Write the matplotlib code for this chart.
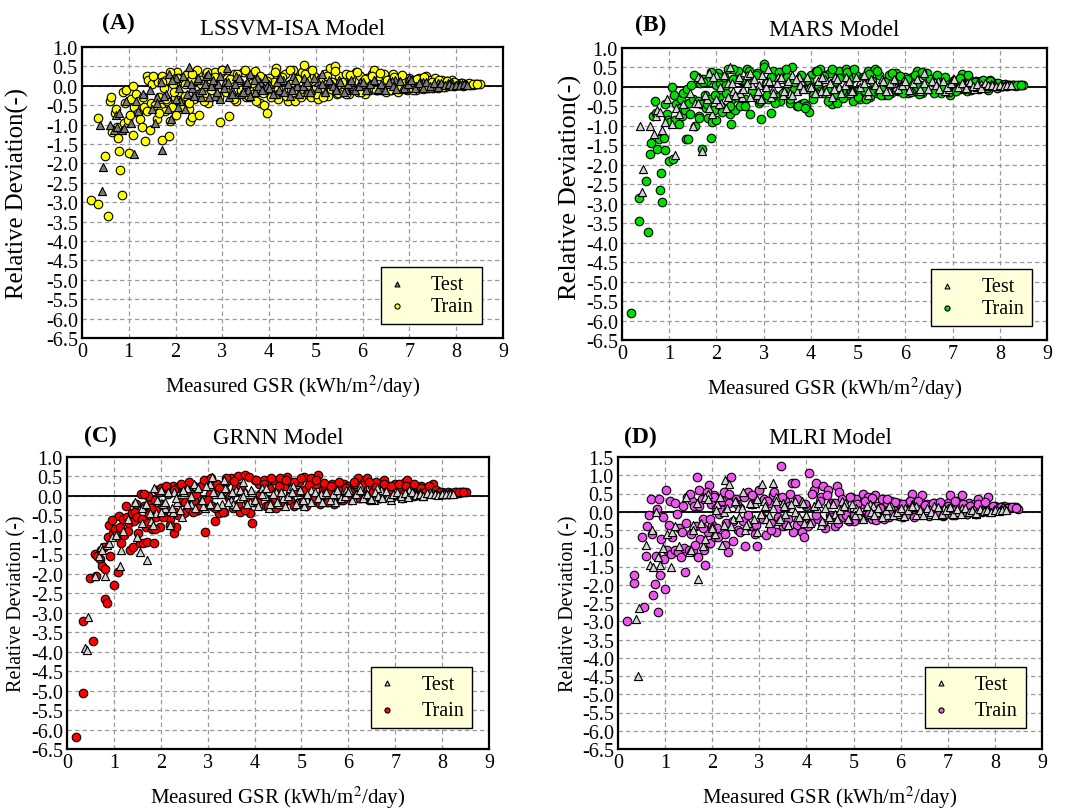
import matplotlib
matplotlib.use("Agg")
import matplotlib.pyplot as plt

plt.rcParams['font.family'] = ['Liberation Serif', 'DejaVu Serif']
plt.rcParams['mathtext.fontset'] = 'stix'
plt.rcParams['axes.unicode_minus'] = False

# ---------------- data ----------------
# measured GSR of the training samples (shared by all four models)
x_train = [
    0.20, 0.35, 0.35, 0.55, 0.50, 0.60, 0.62, 0.65, 0.70, 0.72,
    0.75, 0.78, 0.80, 0.82, 0.85, 0.88, 0.90, 0.92, 0.95, 0.98,
    1.00, 1.02, 1.05, 1.08, 1.10, 1.12, 1.15, 1.20, 1.22, 1.25,
    1.28, 1.30, 1.33, 1.35, 1.38, 1.40, 1.42, 1.45, 1.47, 1.50,
    1.55, 1.58, 1.60, 1.62, 1.65, 1.68, 1.70, 1.72, 1.75, 1.78,
    1.80, 1.82, 1.85, 1.88, 1.90, 1.93, 1.95, 1.98, 2.00, 2.03,
    2.05, 2.08, 2.10, 2.15, 2.20, 2.25, 2.28, 2.30, 2.33, 2.35,
    2.40, 2.45, 2.50, 2.55, 2.60, 2.65, 2.70, 2.75, 2.80, 2.85,
    2.90, 2.95, 3.00, 3.05, 3.10, 3.15, 3.20, 3.25, 3.30, 3.35,
    3.40, 3.45, 3.50, 3.55, 3.60, 3.65, 3.70, 3.75, 3.80, 3.85,
    3.90, 3.95, 4.00,
    4.05, 4.10, 4.15, 4.20, 4.25, 4.30, 4.35, 4.40, 4.45, 4.50,
    4.55, 4.60, 4.65, 4.70, 4.75, 4.80, 4.85, 4.90, 4.95, 5.00,
    5.05, 5.10, 5.15, 5.20, 5.25, 5.30, 5.35, 5.40, 5.45, 5.50,
    5.55, 5.60, 5.65, 5.70, 5.75, 5.80, 5.85, 5.90, 5.95, 6.00,
    6.05, 6.10, 6.15, 6.20, 6.25, 6.30, 6.35, 6.40, 6.45, 6.50,
    6.55, 6.60, 6.65, 6.70, 6.75, 6.80, 6.85, 6.90, 6.95, 7.00,
    7.05, 7.10, 7.15, 7.20, 7.25, 7.30, 7.35, 7.40, 7.45, 7.50,
    7.55, 7.60, 7.65, 7.70, 7.75, 7.80, 7.85, 7.90, 7.95, 8.00,
    8.05, 8.10, 8.15, 8.20, 8.25, 8.30, 8.35, 8.40, 8.45, 8.50,
]
x_train_band = [
    1.52, 1.64, 1.72, 1.80, 1.88, 1.96, 2.04, 2.12, 2.20, 2.28,
    2.36, 2.44, 2.52, 2.60, 2.68, 2.76, 2.84, 2.92, 3.00, 3.08,
    3.16, 3.24, 3.32, 3.40, 3.48, 3.56, 3.64, 3.72, 3.80, 3.88,
    3.96, 4.04, 4.12, 4.20, 4.28, 4.36, 4.44, 4.52, 4.60, 4.68,
    4.76, 4.84, 4.92, 5.00, 5.08, 5.16, 5.24, 5.32, 5.40, 5.48,
    5.56, 5.64, 5.72, 5.80, 5.88, 5.96, 6.04, 6.12, 6.20, 6.28,
    6.36, 6.44, 6.52, 6.60, 6.68, 6.76, 6.84, 6.92, 7.00, 7.08,
    7.16, 7.24, 7.32, 7.40, 7.48, 7.56, 7.64, 7.72, 7.80, 7.88,
    7.96, 8.04, 8.12, 8.20, 8.28, 8.36, 8.44,
]

# measured GSR of the testing samples (shared by all four models)
x_test = [
    0.38, 0.42, 0.45, 0.60, 0.68, 0.72, 0.75, 0.80, 0.85, 0.90,
    0.95, 1.05, 1.12, 1.15, 1.20, 1.30, 1.45, 1.50, 1.55, 1.60,
    1.70,
    1.80, 1.90, 2.00, 2.10, 2.20, 2.28, 2.35, 2.45, 2.55, 2.65,
    2.75, 2.85, 2.95, 3.05, 3.10, 3.20, 3.30, 3.40, 3.50, 3.60,
    3.70, 3.80, 3.90, 4.00, 4.15, 4.30, 4.45, 4.60, 4.75, 4.90,
    5.05, 5.20, 5.35, 5.50, 5.65, 5.80, 5.95, 6.10, 6.25, 6.40,
    6.55, 6.70, 6.85, 7.00, 7.15, 7.30, 7.45, 7.60, 7.75, 7.90,
    8.05, 8.20,
    1.85, 2.05, 2.25, 2.50, 2.70, 2.90, 3.15, 3.35, 3.55, 3.75,
    3.95, 4.22, 4.52, 4.82, 5.12, 5.42, 5.72, 6.02, 6.32, 6.62,
    6.92, 7.22, 7.52, 7.82, 8.12,
]
x_test_core = [
    1.60, 1.68, 1.76, 1.84, 1.92, 2.00, 2.08, 2.16, 2.24, 2.32,
    2.40, 2.48, 2.56, 2.64, 2.72, 2.80, 2.88, 2.96, 3.04, 3.12,
    3.20, 3.28, 3.36, 3.44, 3.52, 3.60, 3.68, 3.76, 3.84, 3.92,
    4.00, 4.08, 4.16, 4.24, 4.32, 4.40, 4.48, 4.56, 4.64, 4.72,
    4.80, 4.88, 4.96, 5.04, 5.12, 5.20, 5.28, 5.36, 5.44, 5.52,
    5.60, 5.68, 5.76, 5.84, 5.92, 6.00, 6.08, 6.16, 6.24, 6.32,
    6.40, 6.48, 6.56, 6.64, 6.72, 6.80, 6.88, 6.96, 7.04, 7.12,
    7.20, 7.28, 7.36, 7.44, 7.52, 7.60, 7.68, 7.76, 7.84, 7.92,
    8.00, 8.08, 8.16, 8.24,
]

# (A) LSSVM-ISA relative deviations
train_lssvm = [
    -2.95, -3.05, -0.83, -3.35, -1.80, -0.38, -0.30, -1.18, -0.70, -0.60,
    -1.05, -1.35, -1.67, -2.18, -2.82, -0.15, -0.95, -0.45, -0.12, -0.88,
    -1.72, -0.75, -0.35, -1.28, 0.00, -0.55, -0.20, -0.70, -0.40, -0.85,
    -1.05, -0.30, -0.55, -1.42, 0.25, -0.65, 0.15, -1.15, -0.45, 0.05,
    -0.50, 0.20, -0.85, 0.10, -0.30, -0.55, -1.40, 0.25, -0.05, -0.65,
    0.15, -0.40, -1.30, -0.90, 0.30, -0.55, 0.05, -0.30, -0.75, 0.35,
    -0.15, 0.20, -0.45, 0.10, -0.25, 0.30, -0.60, -0.90, 0.15, -0.80,
    -0.35, 0.42, -0.75, 0.05, -0.20, 0.30, -0.45, 0.15, -0.10, 0.35,
    -0.30, -0.93, 0.40, -0.05, 0.20, -0.78, -0.25, 0.30, -0.40, 0.10,
    -0.15, 0.35, -0.30, 0.05, 0.25, -0.20, 0.38, -0.05, -0.45, 0.15,
    -0.50, -0.70, 0.20,
    -0.25, 0.10, 0.45, -0.35, 0.25, -0.10, 0.30, -0.40, 0.05, 0.40,
    -0.40, 0.20, -0.15, 0.35, 0.53, -0.20, 0.15, -0.30, 0.25, -0.05,
    -0.35, 0.20, -0.10, 0.30, -0.25, 0.47, 0.10, 0.50, -0.20, 0.25,
    -0.15, 0.05, 0.30, -0.20, 0.15, -0.05, 0.35, -0.15, 0.25, 0.00,
    -0.20, 0.20, -0.10, 0.30, 0.40, -0.10, 0.25, -0.05, 0.30, -0.15,
    0.15, -0.10, 0.30, 0.05, -0.15, 0.20, -0.05, 0.10, -0.12, 0.20,
    -0.05, 0.15, -0.10, 0.20, 0.05, -0.08, 0.25, 0.00, 0.15, -0.05,
    0.20, -0.05, 0.10, 0.15, -0.03, 0.12, 0.05, 0.15, 0.00, 0.08,
    0.02, 0.06, 0.00, 0.04, 0.05, 0.02, 0.03, 0.05, 0.04, 0.05,
]
train_band_lssvm = [
    0.25, -0.70, 0.10, -0.35, 0.35, -0.15, 0.20, -0.55, 0.05, -0.45,
    0.30, -0.20, 0.15, -0.40, 0.35, -0.10, 0.22, -0.30, 0.40, -0.15,
    0.18, -0.35, 0.30, -0.12, 0.40, -0.28, 0.08, -0.40, 0.25, -0.18,
    0.12, -0.30, 0.35, -0.08, 0.22, -0.25, 0.40, -0.15, 0.18, -0.30,
    0.30, -0.10, 0.42, -0.20, 0.15, -0.28, 0.25, -0.08, 0.38, -0.18,
    0.10, -0.22, 0.28, -0.05, 0.35, -0.15, 0.18, -0.10, 0.25, -0.12,
    0.32, -0.05, 0.15, -0.12, 0.22, 0.00, 0.28, -0.08, 0.12, -0.10,
    0.18, -0.02, 0.22, -0.06, 0.10, 0.02, 0.16, -0.04, 0.12, 0.05,
    0.10, 0.02, 0.08, 0.03, 0.06, 0.04, 0.05,
]
test_lssvm = [
    -1.00, -2.70, -2.10, -1.00, -1.15, -0.75, -1.05, -0.70, -1.15, -1.10,
    -0.40, -0.95, -1.75, -0.40, -0.65, -0.20, -0.10, -0.60, -0.95, -0.30,
    -1.65,
    -0.20, -0.85, 0.20, -0.40, -0.60, 0.48, -0.05, 0.15, -0.30, 0.25,
    0.00, -0.25, -0.35, 0.10, 0.45, -0.10, 0.25, -0.20, 0.05, 0.30,
    -0.15, 0.10, -0.05, 0.05, -0.20, 0.15, -0.25, 0.00, 0.20, -0.10,
    0.10, -0.15, 0.05, 0.15, -0.10, 0.00, 0.10, -0.05, 0.15, -0.10,
    0.05, 0.15, -0.08, 0.20, 0.00, 0.10, -0.05, 0.08, 0.02, 0.06,
    0.03, 0.04,
    0.30, -0.55, 0.10, -0.15, 0.30, 0.05, -0.30, 0.15, -0.10, 0.20,
    0.00, -0.10, 0.25, -0.15, 0.30, -0.05, 0.10, 0.05, -0.10, 0.12,
    -0.05, 0.10, 0.00, 0.07, 0.04,
]
test_core_lssvm = [
    -0.45, 0.10, -0.25, -0.60, 0.15, -0.35, -0.05, 0.25, -0.20, 0.05,
    -0.25, 0.20, -0.10, 0.05, -0.30, 0.15, -0.15, 0.25, -0.05, 0.10,
    -0.20, 0.05, 0.20, -0.15, 0.10, -0.25, 0.15, 0.00, -0.10, 0.20,
    -0.05, -0.20, 0.10, 0.20, -0.15, 0.05, -0.10, 0.15, -0.20, 0.00,
    0.10, -0.15, 0.20, -0.05, 0.05, -0.15, 0.15, 0.00, -0.10, 0.10,
    -0.15, 0.05, 0.15, -0.10, 0.00, 0.10, -0.12, 0.05, 0.15, -0.08,
    0.05, -0.10, 0.10, 0.00, -0.08, 0.12, -0.05, 0.05, 0.15, -0.05,
    0.08, -0.05, 0.10, 0.00, 0.06, -0.04, 0.08, 0.02, 0.05, 0.00,
    0.03, 0.02, 0.04, 0.03,
]

# (B) MARS relative deviations
train_mars = [
    -5.80, -3.45, -2.85, -3.72, -2.42, -1.72, -1.45, -0.75, -0.35, -0.68,
    -1.60, -1.35, -2.65, -2.20, -2.95, -1.30, -1.62, -0.45, -0.70, -0.85,
    -1.90, -0.90, 0.00, -1.85, -0.20, -0.85, -0.45, -0.95, -0.55, -0.30,
    -0.75, -0.15, -0.60, -1.35, -0.05, -1.35, -0.40, -0.70, 0.05, -0.30,
    -1.00, 0.25, -0.35, -0.75, 0.10, -0.45, -1.60, 0.20, -0.20, -0.55,
    0.15, -0.80, -0.30, -1.32, -0.90, 0.30, -0.60, 0.05, -0.85, 0.35,
    -0.25, 0.10, -0.50, 0.25, -0.15, 0.45, -0.70, -0.95, -0.30, 0.20,
    -0.60, 0.40, -0.50, 0.15, -0.30, 0.45, -0.70, 0.25, -0.15, 0.35,
    -0.40, -0.82, 0.58, 0.10, -0.30, -0.67, 0.40, -0.20, 0.20, -0.35,
    0.30, -0.10, 0.25, -0.40, 0.50, -0.05, -0.48, 0.20, -0.45, -0.42,
    -0.50, -0.65, 0.30,
    -0.20, 0.40, 0.05, 0.45, -0.15, 0.30, -0.05, 0.35, -0.45, 0.15,
    -0.40, 0.40, -0.10, 0.25, 0.45, -0.20, 0.20, -0.37, 0.30, -0.10,
    -0.30, 0.25, -0.10, 0.40, -0.25, 0.15, 0.45, -0.15, 0.30, -0.05,
    -0.20, 0.15, 0.30, -0.15, 0.05, 0.35, -0.10, 0.20, -0.05, 0.25,
    -0.15, 0.10, 0.25, -0.10, 0.40, 0.05, -0.15, 0.30, 0.35, -0.05,
    0.20, -0.10, 0.15, 0.25, -0.15, 0.05, 0.15, -0.10, -0.20, 0.10,
    -0.10, 0.15, -0.05, 0.32, 0.05, -0.10, 0.20, -0.05, 0.10, 0.15,
    -0.05, 0.15, 0.05, 0.10, -0.08, 0.18, 0.05, 0.10, -0.02, 0.08,
    0.03, 0.06, 0.02, 0.05, 0.04, 0.06, 0.03, 0.05, 0.04, 0.05,
]
train_band_mars = [
    0.30, -0.80, 0.12, -0.45, 0.38, -0.20, 0.25, -0.65, 0.05, -0.50,
    0.45, -0.25, 0.18, -0.50, 0.40, -0.10, 0.30, -0.35, 0.50, -0.20,
    0.25, -0.40, 0.38, -0.15, 0.45, -0.30, 0.12, -0.50, 0.30, -0.55,
    0.15, -0.30, 0.42, -0.10, 0.28, -0.35, 0.45, -0.18, 0.22, -0.28,
    0.38, -0.12, 0.45, -0.25, 0.20, -0.30, 0.32, -0.10, 0.42, -0.20,
    0.12, -0.22, 0.35, -0.08, 0.28, -0.15, 0.20, -0.12, 0.30, -0.18,
    0.38, -0.05, 0.20, -0.15, 0.30, 0.00, 0.25, -0.12, 0.15, -0.10,
    0.22, -0.05, 0.30, -0.08, 0.12, 0.02, 0.18, -0.04, 0.15, 0.05,
    0.10, 0.03, 0.08, 0.04, 0.06, 0.05, 0.05,
]
test_mars = [
    -1.00, -2.70, -2.10, -1.00, -1.20, -0.75, -0.60, -0.65, -1.10, -0.90,
    -0.30, -0.95, -1.75, -0.55, -0.70, -0.45, -0.15, -1.00, -0.40, 0.25,
    -1.65,
    -0.30, -0.70, 0.30, -0.40, -0.55, 0.50, -0.10, 0.20, -0.25, 0.30,
    0.05, -0.20, -0.30, 0.15, 0.45, -0.05, 0.25, -0.20, 0.10, 0.30,
    -0.10, 0.15, -0.05, 0.05, -0.15, 0.20, -0.25, 0.00, 0.25, -0.10,
    0.15, -0.20, 0.05, 0.20, -0.10, 0.00, 0.15, -0.05, 0.20, 0.35,
    0.05, 0.15, -0.10, 0.20, 0.00, 0.10, -0.05, 0.08, 0.02, 0.06,
    0.03, 0.04,
    0.35, -0.45, 0.10, -0.15, 0.35, 0.05, -0.25, 0.20, -0.15, 0.25,
    0.00, -0.10, 0.25, -0.15, 0.30, -0.05, 0.10, 0.05, -0.10, 0.12,
    -0.05, 0.10, 0.00, 0.07, 0.04,
]
test_core_mars = [
    -0.40, 0.20, -0.20, -0.55, 0.25, -0.30, 0.00, 0.30, -0.25, 0.10,
    -0.20, 0.25, -0.05, 0.10, -0.25, 0.20, -0.10, 0.30, 0.00, 0.15,
    -0.15, 0.10, 0.25, -0.10, 0.15, -0.20, 0.20, 0.05, -0.05, 0.25,
    0.00, -0.15, 0.15, 0.25, -0.10, 0.10, -0.05, 0.20, -0.15, 0.05,
    0.15, -0.10, 0.25, 0.00, 0.10, -0.10, 0.20, 0.05, -0.05, 0.15,
    -0.10, 0.10, 0.20, -0.05, 0.05, 0.15, -0.08, 0.10, 0.20, -0.05,
    0.10, -0.05, 0.15, 0.05, -0.05, 0.15, 0.00, 0.10, 0.20, 0.00,
    0.10, -0.03, 0.12, 0.02, 0.08, -0.02, 0.10, 0.04, 0.06, 0.02,
    0.04, 0.03, 0.05, 0.04,
]

# (C) GRNN relative deviations
train_grnn = [
    -6.20, -5.05, -3.20, -3.72, -2.12, -1.50, -2.05, -1.55, -1.62, -1.40,
    -1.80, -1.30, -2.65, -1.88, -2.75, -1.05, -0.75, -1.55, -0.62, -0.95,
    -2.30, -0.85, -1.00, -1.95, -0.52, -0.80, -1.20, -0.60, -1.00, -0.25,
    -0.55, -0.90, -0.70, -1.40, -0.45, -1.30, -0.65, -0.40, -0.20, -0.55,
    -1.20, 0.05, -0.60, -1.20, -0.25, -0.80, -1.18, 0.00, -0.45, -0.65,
    -0.20, -0.85, -1.22, -0.10, -0.55, 0.15, -0.35, -0.80, 0.20, -0.20,
    -0.45, 0.10, -0.30, 0.05, -0.60, 0.25, -0.95, -0.40, -0.80, 0.20,
    -0.15, 0.25, -0.45, 0.10, -0.30, 0.30, -0.10, 0.20, -0.35, 0.25,
    -0.15, -0.93, 0.40, 0.05, -0.25, -0.65, 0.30, -0.45, 0.15, -0.40,
    0.35, -0.05, 0.45, -0.30, 0.20, 0.50, -0.40, 0.10, 0.55, -0.15,
    -0.45, -0.70, 0.40,
    -0.15, 0.30, 0.05, 0.42, -0.25, 0.20, -0.10, 0.40, -0.30, 0.15,
    0.45, -0.20, 0.25, 0.48, -0.10, 0.30, -0.25, 0.10, 0.35, -0.15,
    0.48, -0.25, 0.20, 0.45, -0.10, 0.30, 0.55, -0.20, 0.15, 0.25,
    -0.15, 0.10, 0.30, -0.20, 0.05, 0.20, -0.10, 0.30, 0.00, 0.25,
    -0.10, 0.15, 0.30, 0.45, -0.05, 0.20, 0.40, 0.45, -0.10, 0.25,
    0.10, 0.35, -0.05, 0.20, 0.40, 0.05, 0.25, -0.05, 0.15, 0.30,
    0.05, 0.20, -0.05, 0.35, 0.40, 0.10, 0.20, 0.00, 0.25, 0.10,
    0.25, 0.05, 0.20, 0.10, 0.15, 0.30, 0.05, 0.12, 0.08, 0.10,
    0.05, 0.07, 0.06, 0.08, 0.07, 0.09, 0.08, 0.10, 0.09, 0.10,
]
train_band_grnn = [
    -0.95, 0.05, -0.70, -0.30, -0.85, 0.10, -0.55, 0.25, -0.75, 0.15,
    -0.50, 0.30, -0.15, 0.35, -0.40, 0.05, -0.25, 0.40, -0.10, 0.45,
    -0.30, 0.20, -0.40, 0.45, 0.00, 0.38, -0.20, 0.25, -0.35, 0.48,
    -0.15, 0.40, 0.05, 0.30, -0.25, 0.45, -0.05, 0.25, -0.20, 0.40,
    0.05, 0.35, -0.18, 0.45, 0.15, 0.28, -0.10, 0.40, 0.00, 0.32,
    -0.15, 0.25, 0.05, 0.35, -0.10, 0.20, 0.10, 0.35, -0.05, 0.28,
    0.00, 0.35, 0.10, 0.22, -0.05, 0.30, 0.12, 0.25, 0.02, 0.30,
    0.05, 0.25, 0.12, 0.30, 0.02, 0.20, 0.10, 0.25, 0.05, 0.15,
    0.10, 0.08, 0.10, 0.08, 0.09, 0.10, 0.09,
]
test_grnn = [
    -3.90, -3.95, -3.10, -2.05, -1.55, -1.30, -1.40, -2.05, -1.25, -1.20,
    -1.05, -1.00, -1.80, -1.40, -0.90, -0.60, -0.15, -1.05, -1.45, -0.30,
    -1.65,
    -0.65, -0.45, 0.15, -0.30, -0.75, 0.10, -0.15, -0.55, 0.20, -0.20,
    0.25, -0.10, -0.30, 0.30, 0.48, 0.05, -0.20, 0.20, -0.10, 0.15,
    -0.05, 0.10, -0.15, -0.10, 0.20, -0.30, 0.10, -0.05, 0.20, -0.15,
    -0.25, 0.15, -0.05, 0.10, -0.10, 0.05, 0.15, -0.05, 0.25, 0.05,
    -0.10, 0.15, 0.00, 0.10, -0.05, 0.15, 0.05, 0.00, 0.10, 0.05,
    0.06, 0.08,
    0.20, -0.20, -0.40, 0.10, 0.30, -0.25, 0.05, 0.40, -0.20, 0.35,
    0.10, 0.00, -0.20, 0.25, -0.10, 0.05, -0.15, 0.15, -0.05, 0.20,
    -0.10, 0.05, 0.10, 0.04, 0.06,
]
test_core_grnn = [
    -0.70, -0.20, -0.45, -0.75, -0.10, -0.40, -0.15, 0.10, -0.30, -0.05,
    -0.35, 0.15, -0.20, 0.00, -0.30, 0.20, -0.10, 0.25, -0.20, 0.10,
    -0.25, 0.05, 0.20, -0.15, 0.10, -0.25, 0.15, 0.00, -0.20, 0.15,
    -0.10, -0.25, 0.05, 0.20, -0.20, 0.05, -0.15, 0.10, -0.25, 0.00,
    0.10, -0.20, 0.15, -0.10, 0.05, -0.15, 0.10, -0.05, -0.15, 0.10,
    -0.10, 0.05, 0.15, -0.05, 0.00, 0.10, -0.10, 0.05, 0.15, -0.05,
    0.05, -0.08, 0.10, 0.00, -0.05, 0.12, -0.03, 0.05, 0.10, 0.00,
    0.08, -0.02, 0.10, 0.02, 0.06, 0.00, 0.08, 0.04, 0.05, 0.03,
    0.05, 0.04, 0.06, 0.06,
]

# (D) MLRI relative deviations
train_mlri = [
    -3.00, -1.95, -1.72, -2.62, -0.70, -1.22, -0.40, -0.10, 0.35, -0.60,
    -2.28, -1.98, -1.20, 0.08, -2.75, 0.35, -1.72, -0.75, -0.15, -1.30,
    -2.12, 0.60, -1.05, -0.35, 0.30, -1.15, -0.70, 0.25, -1.05, -0.05,
    -1.10, -0.45, -1.25, -0.55, 0.15, -1.00, -1.65, -0.30, 0.40, -1.05,
    -0.60, 0.30, -1.05, 0.15, -0.40, 0.95, -1.25, 0.60, -0.75, 0.35,
    -0.20, -1.05, -1.45, 0.45, -0.55, 0.72, -0.85, 0.20, -0.35, 0.45,
    -0.70, 0.10, -0.45, -0.05, 0.30, 0.55, -0.90, -0.30, -1.10, 0.25,
    0.95, -0.80, 0.35, -0.50, 0.10, -0.25, -0.95, 0.55, -0.40, 0.20,
    -0.60, -0.95, 0.60, -0.15, 0.35, -0.65, 0.25, -0.30, 0.45, -0.55,
    0.10, 1.25, -0.40, 0.30, -0.20, 0.50, 0.80, 0.80, -0.35, 0.25,
    -0.55, -0.70, 0.15,
    1.05, -0.30, 0.60, 0.80, -0.20, 0.40, 0.70, -0.45, 0.60, -0.10,
    0.25, -0.40, 0.70, 0.55, -0.15, 0.30, 0.05, -0.25, 0.40, -0.10,
    0.35, -0.20, 0.20, 0.50, -0.10, 0.40, 0.05, -0.20, 0.45, 0.15,
    -0.15, 0.35, 0.05, 0.25, -0.15, 0.30, 0.10, -0.10, 0.25, 0.00,
    -0.15, 0.20, 0.05, 0.30, 0.48, -0.10, 0.15, 0.30, 0.45, -0.05,
    0.20, -0.10, 0.15, 0.25, -0.05, 0.20, 0.10, -0.12, 0.15, 0.25,
    0.45, 0.05, -0.10, 0.30, 0.20, 0.45, 0.05, -0.05, 0.25, 0.10,
    0.20, -0.05, 0.35, 0.10, 0.05, 0.25, 0.40, 0.10, 0.05, 0.15,
    0.10, 0.12, 0.08, 0.15, 0.10, 0.12, 0.10, 0.13, 0.12, 0.08,
]
train_band_mlri = [
    0.50, -0.90, 0.15, -0.45, 0.55, -0.20, 0.40, -0.70, 0.05, -0.60,
    0.50, -0.25, 0.20, -0.55, 0.40, -0.10, 0.45, -0.35, 0.60, -0.20,
    0.30, -0.50, 0.55, -0.15, 0.40, -0.35, 0.15, -0.55, 0.35, -0.25,
    0.20, -0.40, 0.50, -0.10, 0.30, -0.30, 0.45, -0.15, 0.25, -0.30,
    0.35, -0.10, 0.40, -0.25, 0.20, -0.15, 0.30, -0.05, 0.38, -0.22,
    0.10, -0.20, 0.35, -0.05, 0.28, -0.12, 0.20, -0.10, 0.30, -0.15,
    0.30, -0.05, 0.18, -0.12, 0.25, 0.00, 0.28, -0.10, 0.15, -0.08,
    0.30, 0.00, 0.22, -0.05, 0.15, 0.05, 0.20, -0.02, 0.28, 0.05,
    0.15, 0.08, 0.12, 0.10, 0.10, 0.12, 0.10,
]
test_mlri = [
    -2.95, -4.50, -2.65, -0.90, -1.45, -0.50, -1.50, 0.00, -1.25, -1.45,
    -1.00, -0.60, -1.52, -0.55, -0.40, -0.95, 0.40, -1.10, -1.05, -0.35,
    -1.85,
    -0.95, 0.50, -0.40, 0.20, -0.90, 0.88, 0.75, -0.20, 0.10, 0.55,
    -0.30, 0.20, -0.55, 0.75, 0.30, -0.10, 0.80, -0.25, 0.25, -0.35,
    0.10, -0.15, 0.30, -0.10, 0.15, -0.35, 0.20, -0.05, 0.30, -0.20,
    0.10, -0.15, 0.20, 0.00, -0.10, 0.15, -0.05, 0.10, 0.20, -0.10,
    0.05, 0.15, -0.10, 0.10, -0.05, 0.10, 0.00, -0.05, 0.05, 0.00,
    0.05, 0.08,
    0.40, -0.60, 0.00, 0.30, -0.50, 0.25, -0.20, 0.40, -0.05, 0.30,
    -0.30, 0.10, -0.20, 0.25, -0.10, 0.15, -0.10, 0.05, 0.15, -0.05,
    0.10, 0.00, 0.05, 0.02, 0.05,
]
test_core_mlri = [
    -0.50, 0.25, -0.30, -0.75, 0.35, -0.45, 0.05, 0.40, -0.35, 0.10,
    -0.40, 0.30, -0.15, 0.10, -0.35, 0.25, -0.20, 0.35, -0.05, 0.15,
    -0.30, 0.10, 0.30, -0.20, 0.15, -0.35, 0.20, 0.00, -0.15, 0.25,
    -0.10, -0.30, 0.15, 0.25, -0.25, 0.10, -0.15, 0.20, -0.20, 0.05,
    0.15, -0.20, 0.20, -0.10, 0.05, -0.20, 0.15, 0.00, -0.10, 0.10,
    -0.15, 0.05, 0.15, -0.10, 0.00, 0.10, -0.12, 0.05, 0.15, -0.08,
    0.05, -0.10, 0.10, 0.00, -0.08, 0.12, -0.05, 0.05, 0.12, -0.05,
    0.08, -0.05, 0.10, 0.00, 0.06, -0.04, 0.08, 0.02, 0.05, 0.00,
    0.04, 0.03, 0.05, 0.05,
]

panel_letters = ['(A)', '(B)', '(C)', '(D)']
panel_titles = ['LSSVM-ISA Model', 'MARS Model', 'GRNN Model', 'MLRI Model']
ylabels = ['Relative Deviation(-)', 'Relative Deviation(-)',
           'Relative Deviation (-)', 'Relative Deviation (-)']
xlabel_text = 'Measured GSR (kWh/m$^{2}$/day)'
legend_labels = ['Test', 'Train']
yticks_main = [-6.5, -6.0, -5.5, -5.0, -4.5, -4.0, -3.5, -3.0, -2.5, -2.0,
               -1.5, -1.0, -0.5, 0.0, 0.5, 1.0]
yticks_mlri = yticks_main + [1.5]
xticks = [0, 1, 2, 3, 4, 5, 6, 7, 8, 9]

train_sets = [(train_lssvm, train_band_lssvm), (train_mars, train_band_mars),
              (train_grnn, train_band_grnn), (train_mlri, train_band_mlri)]
test_sets = [(test_lssvm, test_core_lssvm), (test_mars, test_core_mars),
             (test_grnn, test_core_grnn), (test_mlri, test_core_mlri)]

# ---------------- styling ----------------
W, H = 1067, 812
train_colors = ['#ffff00', '#00e000', '#ff0000', '#ee55ee']
test_colors = ['#7a7a7a', '#d4d4d4', '#d4d4d4', '#d4d4d4']
# axes boxes in pixels: left, top, right, bottom
boxes = [(82, 48, 503, 339), (622, 49, 1047, 341),
         (67, 458, 489, 750), (618, 458, 1042, 750)]
ylabel_x = [-0.125, -0.093, -0.095, -0.094]
ylabel_y = [0.5, 0.525, 0.5, 0.5]
ylabel_fs = [17.8, 19, 14.5, 14.5]
title_pos = [(293, 35), (834, 36), (278, 444), (830, 444)]
letter_pos = [(118, 29), (651, 31), (100, 442), (640, 443)]
legend_anchor = [(0.950, 0.048), (0.965, 0.048), (0.960, 0.072), (0.962, 0.072)]
legend_spacing = [0.15, 0.15, 0.35, 0.35]

fig = plt.figure(figsize=(W / 100, H / 100), dpi=100)

for i in range(4):
    l, t, r, b = boxes[i]
    ax = fig.add_axes([l / W, 1 - b / H, (r - l) / W, (b - t) / H])
    ax.set_xlim(0, 9)
    top = 1.5 if i == 3 else 1.0
    ax.set_ylim(-6.5, top)
    yt = yticks_mlri if i == 3 else yticks_main
    ax.set_xticks(xticks)
    ax.set_yticks(yt)
    ax.set_yticklabels([f'{v:.1f}' for v in yt])
    ax.grid(True, color='#9a9a9a', linestyle=(0, (3.5, 2.5)), linewidth=0.9)
    ax.set_axisbelow(True)
    ax.axhline(0, color='black', linewidth=1.3, zorder=1.5)
    for s in ax.spines.values():
        s.set_linewidth(1.6)
        s.set_zorder(5)
    ax.tick_params(direction='in', length=0, labelsize=14.5, pad=3)

    tr_main, tr_band = train_sets[i]
    te_main, te_core = test_sets[i]
    ax.scatter(x_train + x_train_band, tr_main + tr_band, s=38, marker='o',
               facecolor=train_colors[i], edgecolor='black', linewidth=0.8,
               zorder=3, label=legend_labels[1])
    ax.scatter(x_test + x_test_core, te_main + te_core, s=34, marker='^',
               facecolor=test_colors[i], edgecolor='black', linewidth=0.8,
               zorder=4, label=legend_labels[0])

    ax.set_xlabel(xlabel_text, fontsize=15, labelpad=8)
    ax.set_ylabel(ylabels[i], fontsize=ylabel_fs[i])
    ax.yaxis.set_label_coords(ylabel_x[i], ylabel_y[i])

    handles, labels = ax.get_legend_handles_labels()
    leg = ax.legend(handles[::-1], labels[::-1], loc='lower right',
                    bbox_to_anchor=legend_anchor[i], borderaxespad=0,
                    fontsize=14.5, markerscale=0.6, handletextpad=1.3,
                    labelspacing=legend_spacing[i], borderpad=0.4,
                    fancybox=False, framealpha=1, facecolor='#ffffd9',
                    edgecolor='black', handlelength=0.8)
    leg.get_frame().set_linewidth(1.0)
    leg.set_zorder(6)

    fig.text(title_pos[i][0] / W, 1 - title_pos[i][1] / H, panel_titles[i],
             ha='center', va='baseline', fontsize=16.5)
    fig.text(letter_pos[i][0] / W, 1 - letter_pos[i][1] / H, panel_letters[i],
             ha='center', va='baseline', fontsize=17, fontweight='bold')

fig.savefig('out.png', dpi=100)
